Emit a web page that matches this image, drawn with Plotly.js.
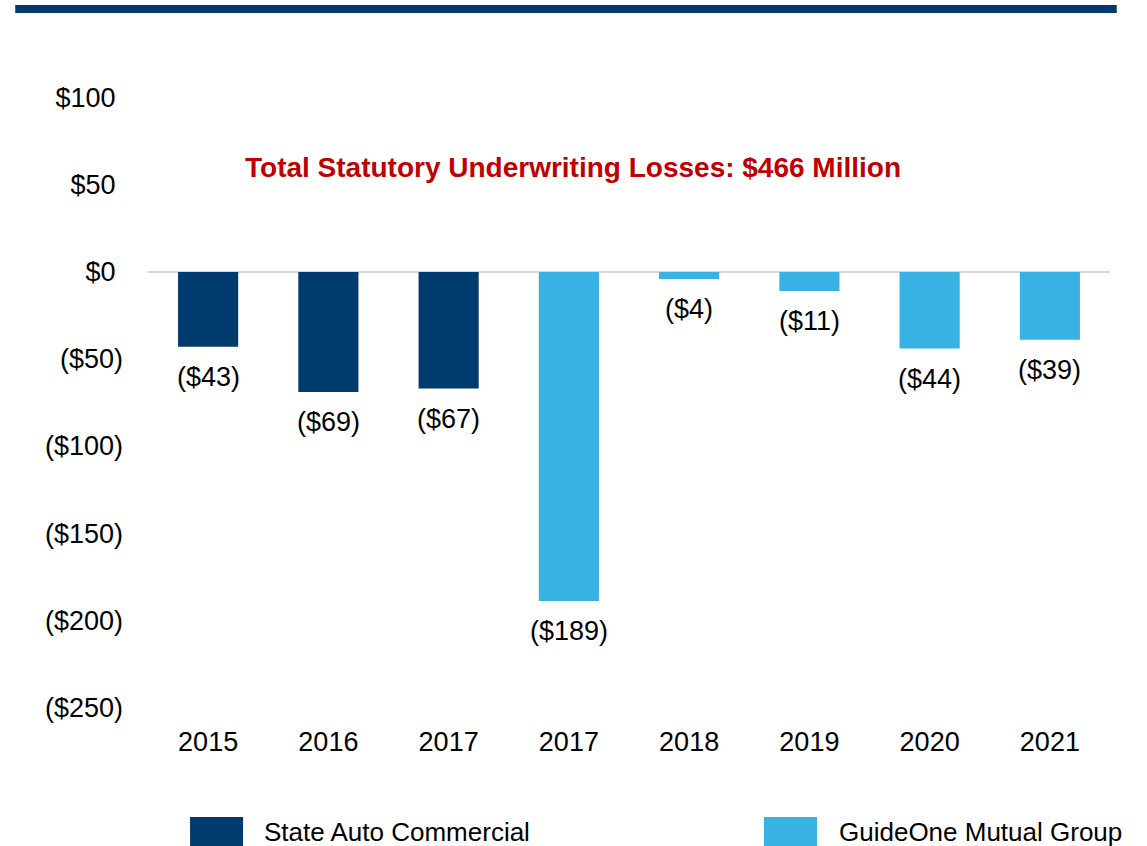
<!DOCTYPE html>
<html>
<head>
<meta charset="utf-8">
<script src="https://cdn.plot.ly/plotly-3.0.1.min.js"></script>
<style>
html,body{margin:0;padding:0;background:#fff;}
#chart{width:1147px;height:846px;}
</style>
</head>
<body>
<div id="chart"></div>
<script>
// ---- data ----
const categories = ['2015','2016','2017','2017','2018','2019','2020','2021'];
const stateAutoValues = [-43, -69, -67, null, null, null, null, null];
const guideOneValues  = [null, null, null, -189, -4, -11, -44, -39];
const seriesNames = ['State Auto Commercial', 'GuideOne Mutual Group'];
const yTickVals = [100, 50, 0, -50, -100, -150, -200, -250];
const chartTitle = 'Total Statutory Underwriting Losses: $466 Million';

// ---- styles ----
const FONT = '"Liberation Sans", Arial, sans-serif';
const DARK = '#003B6F';
const LIGHT = '#38B1E3';
const FS = 27;

const idx = categories.map((_, i) => i);
function money(v){ return v < 0 ? '($' + Math.abs(v) + ')' : '$' + v; }
function tickMoney(v){ return v < 0 ? money(v) : money(v) + '\u00a0'; }

const traces = [
  {type:'bar', x: idx, y: stateAutoValues, name: seriesNames[0], marker:{color: DARK}, width: 0.5, hoverinfo:'skip'},
  {type:'bar', x: idx, y: guideOneValues, name: seriesNames[1], marker:{color: LIGHT}, width: 0.5, hoverinfo:'skip'}
];

const annotations = [];
[stateAutoValues, guideOneValues].forEach(arr => {
  arr.forEach((v, i) => {
    if (v === null) return;
    annotations.push({x: i, y: v, xref:'x', yref:'y', text: money(v), showarrow:false,
      yanchor:'middle', xanchor:'center', yshift:-30, font:{family: FONT, size: FS, color:'#000'}});
  });
});
annotations.push({xref:'paper', yref:'paper', x:0.4418, y:0.884, text:'<b>'+chartTitle+'</b>', showarrow:false,
  xanchor:'center', yanchor:'middle', font:{family: FONT, size: 28, color:'#C00000'}});
// legend labels
annotations.push({xref:'paper', yref:'paper', x:0.1185, y:-0.2030, text: seriesNames[0], showarrow:false,
  xanchor:'left', yanchor:'middle', font:{family: FONT, size: 26, color:'#000'}});
annotations.push({xref:'paper', yref:'paper', x:0.7162, y:-0.2030, text: seriesNames[1], showarrow:false,
  xanchor:'left', yanchor:'middle', font:{family: FONT, size: 26, color:'#000'}});

const shapes = [
  {type:'line', xref:'paper', yref:'paper', x0:-0.138, x1:1.007, y0:1.144, y1:1.144, line:{color: DARK, width: 8}},
  {type:'rect', xref:'paper', yref:'paper', x0:0.0437, x1:0.0988, y0:-0.1784, y1:-0.2324, fillcolor: DARK, line:{width:0}},
  {type:'rect', xref:'paper', yref:'paper', x0:0.6403, x1:0.6954, y0:-0.1784, y1:-0.2324, fillcolor: LIGHT, line:{width:0}}
];

const layout = {
  width:1147, height:846,
  margin:{l:148, r:37, t:97, b:138},
  paper_bgcolor:'#fff', plot_bgcolor:'#fff',
  barmode:'overlay',
  showlegend:false,
  font:{family: FONT, size: FS, color:'#000'},
  xaxis:{
    range:[-0.5, 7.5], tickvals: idx, ticktext: categories,
    showgrid:false, zeroline:false, showline:false, ticks:'',
    ticklabelstandoff: 15,
    tickfont:{family: FONT, size: FS, color:'#000'}
  },
  yaxis:{
    range:[-250.5, 100.5], tickvals: yTickVals, ticktext: yTickVals.map(tickMoney),
    showgrid:false, zeroline:true, zerolinecolor:'#D9D9D9', zerolinewidth:2,
    showline:false, ticks:'', ticklabelstandoff: 24,
    tickfont:{family: FONT, size: FS, color:'#000'}
  },
  annotations: annotations,
  shapes: shapes
};

Plotly.newPlot('chart', traces, layout, {staticPlot:true, displayModeBar:false});
</script>
</body>
</html>
